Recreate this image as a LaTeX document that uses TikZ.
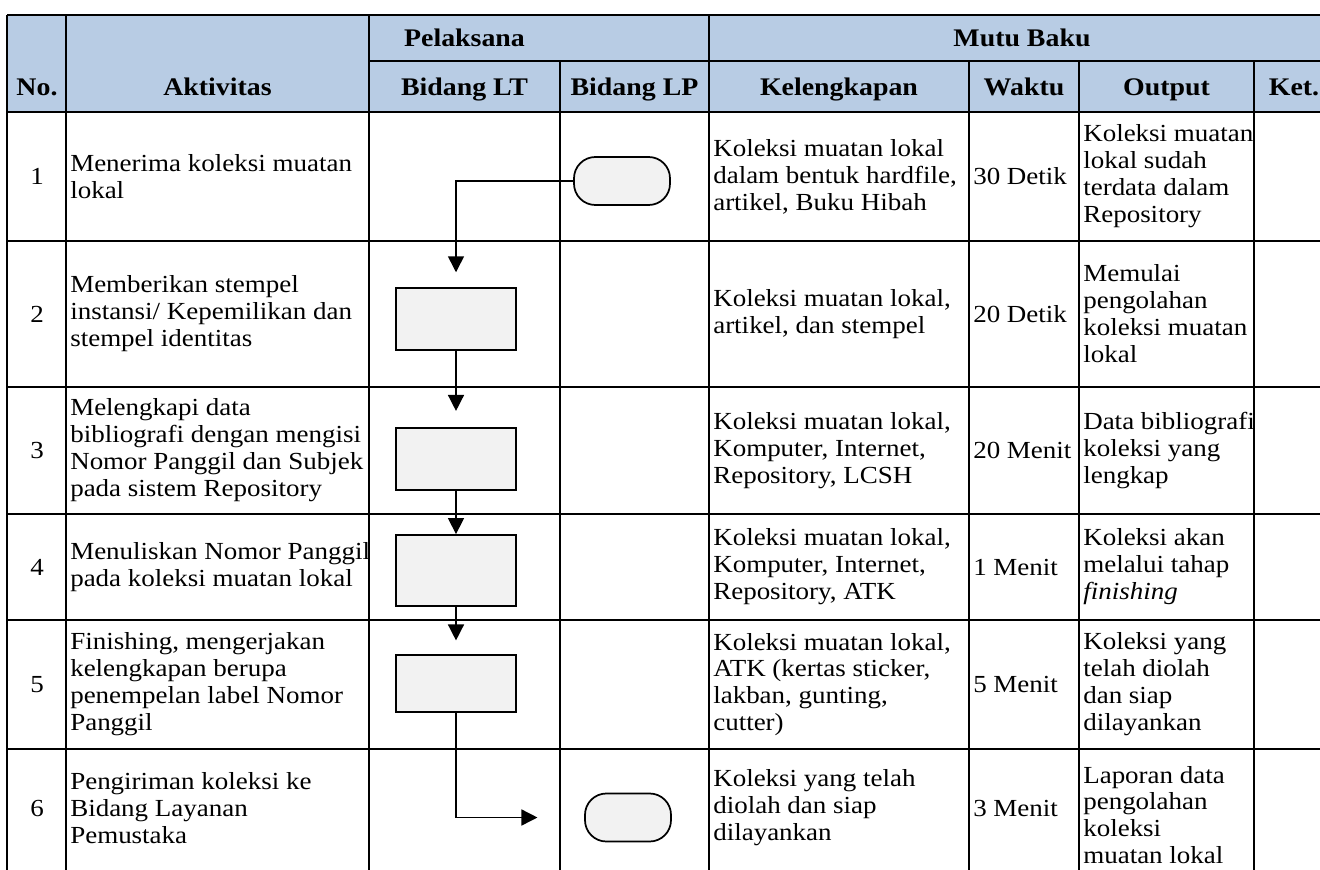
\documentclass[tikz,border=0pt]{standalone}
\usepackage{fontspec}
\setmainfont{Liberation Serif}[FakeStretch=1.10]
\usetikzlibrary{arrows.meta}
\definecolor{hdr}{HTML}{B8CCE4}
\definecolor{shp}{HTML}{F2F2F2}
\newcommand{\mybody}{\fontsize{18.4pt}{20.2pt}\selectfont}
\newcommand{\myhead}{\fontsize{19pt}{22pt}\selectfont\bfseries}
\tikzset{
  gridline/.style={line width=2pt},
  hd/.style={font=\myhead, inner sep=0pt, anchor=base},
  cell/.style={anchor=west, align=left, inner sep=0pt, font=\mybody},
  num/.style={inner sep=0pt, font=\mybody},
  proc/.style={draw, line width=1.6pt, fill=shp, minimum width=90pt, inner sep=0pt},
  term/.style={draw, line width=1.3pt, fill=shp, rounded corners=16pt, minimum height=36pt, inner sep=0pt},
  flow/.style={line width=1.1pt, -{Triangle[width=12pt,length=12pt]}}
}
\begin{document}
\begin{tikzpicture}[x=0.75pt,y=-0.75pt]
\useasboundingbox (0,0) rectangle (1320,870);
% header background
\fill[hdr] (7,15) rectangle (1335,112);
% grid
\draw[gridline] (7,15) -- (1335,15);
\draw[gridline] (369,61) -- (1335,61);
\foreach \yy in {112,241,387,514,620,749} {\draw[gridline] (7,\yy) -- (1335,\yy);}
\foreach \xx in {7,66,369,709,1335} {\draw[gridline] (\xx,15) -- (\xx,885);}
\foreach \xx in {560,969,1079,1254} {\draw[gridline] (\xx,61) -- (\xx,885);}

% header texts
\node[hd] (hno) at (37,96) {No.};
\node[hd] (hakt) at (217.5,96) {Aktivitas};
\node[hd] (hpel) at (464.5,47) {Pelaksana};
\node[hd] (hmutu) at (1022,47) {Mutu Baku};
\node[hd] (hlt) at (464.5,96) {Bidang LT};
\node[hd] (hlp) at (634.5,96) {Bidang LP};
\node[hd] (hkel) at (839,96) {Kelengkapan};
\node[hd] (hwkt) at (1024,96) {Waktu};
\node[hd] (hout) at (1166.5,96) {Output};
\node[hd] (hket) at (1294,96) {Ket.};

% flowchart shapes
\node[term, minimum width=72pt] (t1) at (622,181) {};
\node[proc, minimum height=46.5pt] (b2) at (456,319) {};
\node[proc, minimum height=46.5pt] (b3) at (456,459) {};
\node[proc, minimum height=53pt] (b4) at (456,570.5) {};
\node[proc, minimum height=43pt] (b5) at (456,683.5) {};
\node[term, minimum width=64.5pt] (t2) at (628,817.5) {};

% connectors
\draw[flow, shorten >=11pt] (t1) -| (b2);
\draw[flow, shorten >=12pt] (b2) -- (b3);
\draw[flow] (b3) -- (b4);
\draw[flow, shorten >=10pt] (b4) -- (b5);
\draw[flow, shorten >=35pt] (b5) |- (t2);

% row 1
\node[num] (n1) at (37,176.5) {1};
\node[cell] (a1) at (70,176.5) {Menerima koleksi muatan\\lokal};
\node[cell] (k1) at (713,176.5) {Koleksi muatan lokal\\dalam bentuk hardfile,\\artikel, Buku Hibah};
\node[cell] (w1) at (973,176.5) {30 Detik};
\node[cell] (o1) at (1083,176.5) {Koleksi muatan\\lokal sudah\\terdata dalam\\Repository};
% row 2
\node[num] (n2) at (37,314) {2};
\node[cell] (a2) at (70,314) {Memberikan stempel\\instansi/ Kepemilikan dan\\stempel identitas};
\node[cell] (k2) at (713,314) {Koleksi muatan lokal,\\artikel, dan stempel};
\node[cell] (w2) at (973,314) {20 Detik};
\node[cell] (o2) at (1083,314) {Memulai\\pengolahan\\koleksi muatan\\lokal};
% row 3
\node[num] (n3) at (37,450.5) {3};
\node[cell] (a3) at (70,450.5) {Melengkapi data\\bibliografi dengan mengisi\\Nomor Panggil dan Subjek\\pada sistem Repository};
\node[cell] (k3) at (713,450.5) {Koleksi muatan lokal,\\Komputer, Internet,\\Repository, LCSH};
\node[cell] (w3) at (973,450.5) {20 Menit};
\node[cell] (o3) at (1083,450.5) {Data bibliografi\\koleksi yang\\lengkap};
% row 4
\node[num] (n4) at (37,567) {4};
\node[cell] (a4) at (70,567) {Menuliskan Nomor Panggil\\pada koleksi muatan lokal};
\node[cell] (k4) at (713,567) {Koleksi muatan lokal,\\Komputer, Internet,\\Repository, ATK};
\node[cell] (w4) at (973,567) {1 Menit};
\node[cell] (o4) at (1083,567) {Koleksi akan\\melalui tahap\\\textit{finishing}};
% row 5
\node[num] (n5) at (37,684.5) {5};
\node[cell] (a5) at (70,684.5) {Finishing, mengerjakan\\kelengkapan berupa\\penempelan label Nomor\\Panggil};
\node[cell] (k5) at (713,684.5) {Koleksi muatan lokal,\\ATK (kertas sticker,\\lakban, gunting,\\cutter)};
\node[cell] (w5) at (973,684.5) {5 Menit};
\node[cell] (o5) at (1083,684.5) {Koleksi yang\\telah diolah\\dan siap\\dilayankan};
% row 6
\node[num] (n6) at (37,808) {6};
\node[cell] (a6) at (70,808) {Pengiriman koleksi ke\\Bidang Layanan\\Pemustaka};
\node[cell] (k6) at (713,808) {Koleksi yang telah\\diolah dan siap\\dilayankan};
\node[cell] (w6) at (973,808) {3 Menit};
\node[cell] (o6) at (1083,815) {Laporan data\\pengolahan\\koleksi\\muatan lokal};
\end{tikzpicture}
\end{document}
